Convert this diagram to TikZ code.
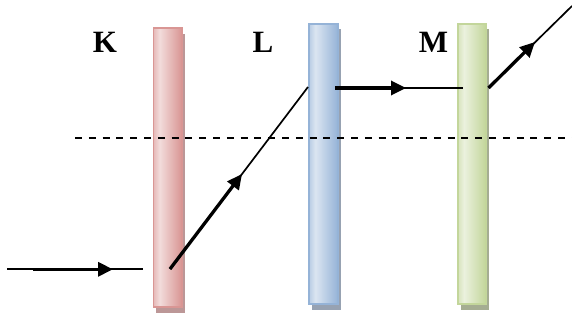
\documentclass[tikz,border=0pt]{standalone}
\usepackage{fontspec}
\setmainfont{Liberation Serif}
\usetikzlibrary{arrows.meta,shadows}
\definecolor{Kb}{HTML}{D99694}
\definecolor{Kl}{HTML}{F2DCDB}
\definecolor{Ks}{HTML}{BC9797}
\definecolor{Lb}{HTML}{95B3D7}
\definecolor{Ll}{HTML}{DBE5F1}
\definecolor{Ls}{HTML}{97A2B2}
\definecolor{Mb}{HTML}{C3D69B}
\definecolor{Ml}{HTML}{EBF1DE}
\definecolor{Ms}{HTML}{A5AD92}
\colorlet{Km}{Kb!50!Kl}
\colorlet{Lm}{Lb!50!Ll}
\colorlet{Mm}{Mb!50!Ml}
\pgfdeclarehorizontalshading{Kshade}{100bp}{color(0bp)=(Km); color(25bp)=(Km); color(36bp)=(Kl); color(75bp)=(Kb); color(100bp)=(Kb)}
\pgfdeclarehorizontalshading{Lshade}{100bp}{color(0bp)=(Lm); color(25bp)=(Lm); color(36bp)=(Ll); color(75bp)=(Lb); color(100bp)=(Lb)}
\pgfdeclarehorizontalshading{Mshade}{100bp}{color(0bp)=(Mm); color(25bp)=(Mm); color(36bp)=(Ml); color(75bp)=(Mb); color(100bp)=(Mb)}
\tikzset{
  plate/.style n args={3}{draw=#2, line width=1.8pt, shading=#1, inner sep=0pt,
    drop shadow={shadow xshift=3pt, shadow yshift=-5.5pt, fill=#3, opacity=1}},
  lbl/.style={font=\fontsize{31}{31}\selectfont\bfseries, inner sep=0pt},
  ray/.style={line width=1.7pt},
  dir/.style={line width=3.3pt, -{Triangle[length=15pt, width=14pt]}},
  guide/.style={line width=1.8pt, dash pattern=on 7pt off 6.8pt}
}
\begin{document}
\begin{tikzpicture}[x=1pt, y=-1pt]
\useasboundingbox (0,0) rectangle (572,320);
% plates
\node[plate={Kshade}{Kb}{Ks}, minimum width=28.2pt, minimum height=278.7pt] (K) at (167.5,167.75) {};
\node[plate={Lshade}{Lb}{Ls}, minimum width=29.2pt, minimum height=280.2pt] (L) at (323.5,164) {};
\node[plate={Mshade}{Mb}{Ms}, minimum width=27.7pt, minimum height=280.2pt] (M) at (471.75,164) {};
% labels
\node[lbl] (tK) at (105,42.5) {K};
\node[lbl] (tL) at (263,42.5) {L};
\node[lbl] (tM) at (433.5,42.5) {M};
% guide line
\coordinate (g1) at (75,138.3);
\coordinate (g2) at (572,138.3);
\draw[guide] (g1) -- (g2);
% ray points
\coordinate (a0) at (7,269.3);
\coordinate (a1) at (33,269.3);
\coordinate (a2) at (113,269.3);
\coordinate (a3) at (143,269.3);
\coordinate (b0) at (170,269);
\coordinate (b1) at (242,174);
\coordinate (b2) at (308,87);
\coordinate (c0) at (335,88);
\coordinate (c1) at (406,88);
\coordinate (c2) at (463,88);
\coordinate (d0) at (488.5,88);
\coordinate (d1) at (535,42);
\coordinate (d2) at (572,6);
% rays
\draw[ray] (a0) -- (a3);
\draw[dir] (a1) -- (a2);
\draw[ray] (b0) -- (b2);
\draw[dir] (b0) -- (b1);
\draw[ray] (c0) -- (c2);
\draw[dir] (c0) -- (c1);
\draw[ray] (d0) -- (d2);
\draw[dir] (d0) -- (d1);
\end{tikzpicture}
\end{document}
